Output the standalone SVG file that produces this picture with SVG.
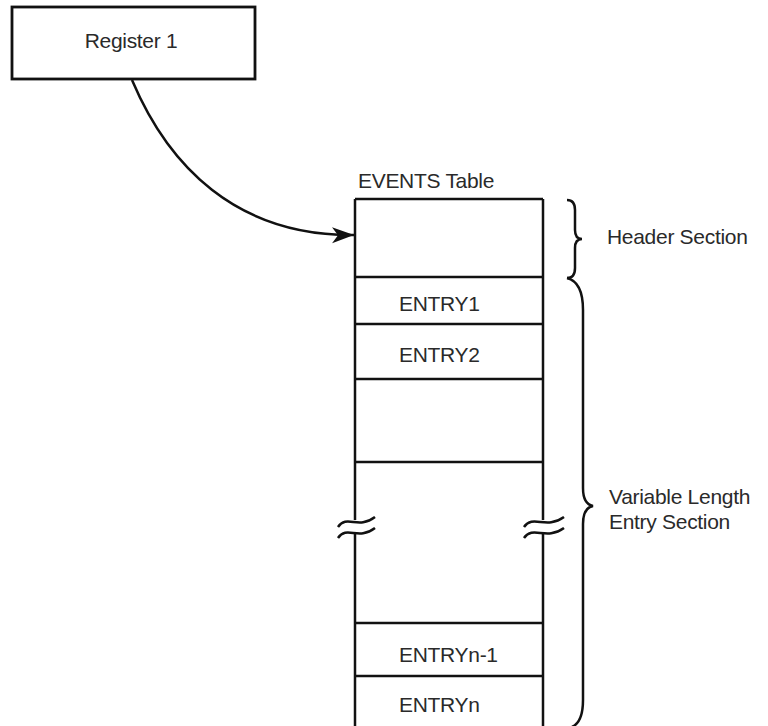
<svg xmlns="http://www.w3.org/2000/svg" width="768" height="726" viewBox="0 0 768 726">
<defs>
<style>
.ln{fill:none;stroke:#111;stroke-width:2.5}
.bx{fill:#fff;stroke:#111;stroke-width:2.8}
.t{font-family:"Liberation Sans",Arial,sans-serif;font-size:21px;fill:#2a2a2a;letter-spacing:-0.3px}
</style>
<marker id="arr" viewBox="0 0 24 18" refX="22" refY="9" markerWidth="24" markerHeight="18" markerUnits="userSpaceOnUse" orient="auto">
<path d="M0,1 L22,9 L0,17 L6,9 Z" fill="#111"/>
</marker>
</defs>
<rect width="768" height="726" fill="#fff"/>
<g id="register1">
<rect class="bx" x="12" y="7" width="243" height="72"/>
<text class="t" x="131" y="48" text-anchor="middle">Register 1</text>
</g>
<g id="connectors">
<path class="ln" d="M132,80 C168,165 235,236 354,235" marker-end="url(#arr)"/>
</g>
<g id="events-table">
<text class="t" x="358" y="188">EVENTS Table</text>
<path class="ln" d="M355,199 H543 M355,199 V520 M355,532 V727 M543,199 V520 M543,532 V727"/>
<path class="ln" d="M355,277 H543 M355,324 H543 M355,379 H543 M355,462 H543 M355,623 H543 M355,676 H543"/>
<path class="ln" d="M338,527 C347,514 358,530 375,517 M338,538 C347,525 358,541 375,528"/>
<path class="ln" d="M524,527 C533,514 546,530 564,517 M524,538 C533,525 546,541 564,528"/>
<text class="t" x="399" y="311">ENTRY1</text>
<text class="t" x="399" y="362">ENTRY2</text>
<text class="t" x="399" y="662">ENTRYn-1</text>
<text class="t" x="399" y="712">ENTRYn</text>
</g>
<g id="header-brace">
<path class="ln" d="M567,200 Q575,200 575,210 V230 Q575,239 582,239 Q575,239 575,248 V268 Q575,278 567,278"/>
<text class="t" x="607" y="244">Header Section</text>
</g>
<g id="entry-brace">
<path class="ln" d="M567,278 Q583,282 583,310 V488 Q583,504 593,506 Q583,508 583,524 V700 Q583,722 572,727"/>
<text class="t" x="609" y="504">Variable Length</text>
<text class="t" x="609" y="529">Entry Section</text>
</g>
</svg>
